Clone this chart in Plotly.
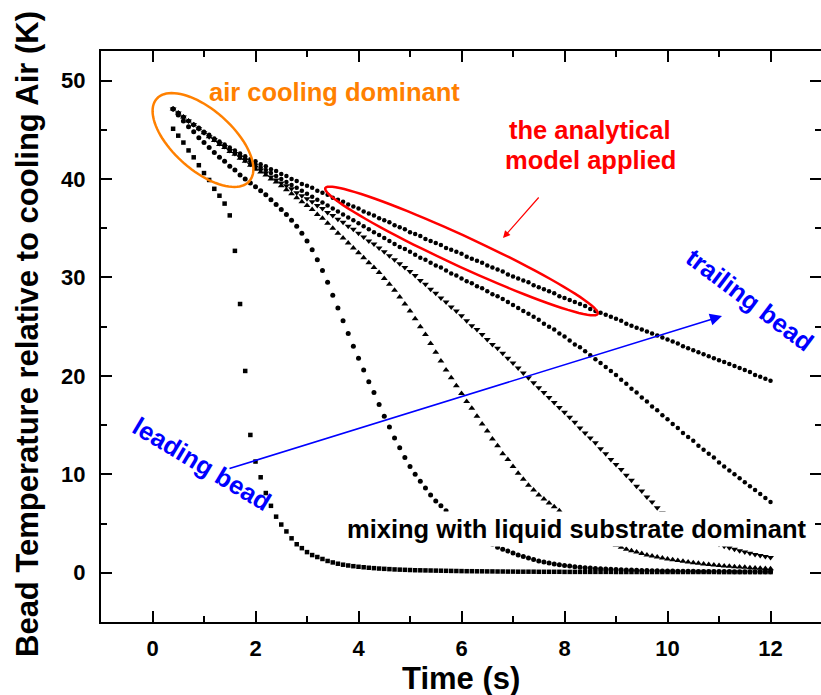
import math
import plotly.graph_objects as go

# ---------------- data ----------------
TIME = [round(0.4 + 0.1 * i, 1) for i in range(117)]  # sampling grid 0.4 .. 12.0 s

S1_SQUARE = [45.1, 44.4, 43.7, 42.9, 42.2, 41.4,
             40.6, 39.9, 39.0, 38.3, 37.5, 36.3, 32.7, 27.3, 20.5, 14.0,
             11.3, 9.7, 8.1, 6.8, 5.7, 4.9, 4.2, 3.5, 2.9, 2.5,
             2.1, 1.8, 1.6, 1.4, 1.2, 1.05, 0.92, 0.82, 0.74, 0.67,
             0.61, 0.56, 0.51, 0.47, 0.43, 0.40, 0.37, 0.34, 0.32, 0.30,
             0.28, 0.26, 0.25, 0.24, 0.23, 0.22, 0.21, 0.20, 0.19, 0.18,
             0.17, 0.16, 0.16, 0.15, 0.15, 0.14, 0.14, 0.13, 0.13, 0.12,
             0.12, 0.11, 0.11, 0.11, 0.11, 0.10, 0.10, 0.10, 0.10, 0.10,
             0.09, 0.09, 0.09, 0.09, 0.09, 0.09, 0.09, 0.09, 0.09, 0.09,
             0.08, 0.08, 0.08, 0.08, 0.08, 0.08, 0.08, 0.08, 0.08, 0.08,
             0.08, 0.08, 0.08, 0.08, 0.08, 0.08, 0.08, 0.08, 0.08, 0.08,
             0.07, 0.07, 0.07, 0.07, 0.07, 0.07, 0.07, 0.07, 0.07, 0.07,
             0.07]

S2_CIRCLE = [47.1, 46.5, 45.9, 45.3, 44.8, 44.2,
             43.7, 43.2, 42.7, 42.2, 41.8, 41.3, 40.9, 40.4, 40.0, 39.6,
             39.2, 38.8, 38.4, 37.9, 37.4, 36.9, 36.4, 35.8, 35.2, 34.5,
             33.7, 32.8, 31.8, 30.7, 29.5, 28.2, 26.9, 25.6, 24.3, 23.0,
             21.8, 20.6, 19.4, 18.3, 17.1, 15.9, 14.8, 13.7, 12.7, 11.7,
             10.8, 10.0, 9.3, 8.6, 7.9, 7.3, 6.8, 6.3, 5.8, 5.4,
             5.0, 4.6, 4.2, 3.9, 3.5, 3.2, 2.9, 2.6, 2.4, 2.2,
             2.0, 1.8, 1.65, 1.5, 1.35, 1.2, 1.1, 1.0, 0.9, 0.82,
             0.75, 0.68, 0.62, 0.57, 0.52, 0.48, 0.44, 0.41, 0.38, 0.35,
             0.33, 0.31, 0.29, 0.27, 0.25, 0.24, 0.22, 0.21, 0.20, 0.19,
             0.18, 0.17, 0.16, 0.16, 0.15, 0.15, 0.14, 0.14, 0.13, 0.13,
             0.12, 0.12, 0.12, 0.11, 0.11, 0.11, 0.10, 0.10, 0.10, 0.10,
             0.10]

S3_TRIUP = [47.1, 46.7, 46.3, 45.9, 45.5, 45.1,
            44.7, 44.3, 43.9, 43.5, 43.2, 42.8, 42.5, 42.1, 41.8, 41.4,
            41.0, 40.7, 40.4, 40.0, 39.7, 39.3, 38.9, 38.5, 38.1, 37.7,
            37.3, 36.9, 36.4, 36.0, 35.5, 35.0, 34.5, 34.0, 33.5, 33.0,
            32.5, 32.0, 31.5, 31.0, 30.5, 29.9, 29.3, 28.7, 28.0, 27.3,
            26.6, 25.8, 25.0, 24.2, 23.3, 22.4, 21.5, 20.6, 19.8, 19.0,
            18.2, 17.4, 16.7, 15.9, 15.1, 14.4, 13.6, 12.9, 12.1, 11.5,
            10.8, 10.1, 9.5, 8.9, 8.4, 7.9, 7.5, 7.1, 6.7, 6.3,
            5.9, 5.5, 5.1, 4.8, 4.4, 4.1, 3.8, 3.5, 3.3, 3.0,
            2.8, 2.6, 2.4, 2.25, 2.1, 1.95, 1.8, 1.7, 1.6, 1.5,
            1.4, 1.32, 1.24, 1.16, 1.09, 1.02, 0.96, 0.9, 0.85, 0.8,
            0.75, 0.7, 0.66, 0.62, 0.58, 0.55, 0.52, 0.49, 0.46, 0.43,
            0.4]

S4_TRIDOWN = [47.1, 46.7, 46.3, 45.9, 45.5, 45.1,
              44.7, 44.3, 44.0, 43.6, 43.3, 42.9, 42.6, 42.2, 41.9, 41.5,
              41.2, 40.9, 40.6, 40.2, 39.9, 39.6, 39.3, 39.0, 38.6, 38.3,
              38.0, 37.7, 37.3, 37.0, 36.6, 36.3, 35.9, 35.6, 35.2, 34.9,
              34.5, 34.1, 33.7, 33.4, 33.0, 32.6, 32.2, 31.8, 31.4, 31.0,
              30.6, 30.2, 29.7, 29.3, 28.8, 28.4, 27.9, 27.5, 27.0, 26.6,
              26.1, 25.6, 25.1, 24.7, 24.2, 23.7, 23.2, 22.8, 22.3, 21.8,
              21.3, 20.8, 20.3, 19.8, 19.3, 18.8, 18.3, 17.8, 17.3, 16.8,
              16.3, 15.8, 15.3, 14.7, 14.2, 13.7, 13.2, 12.6, 12.1, 11.5,
              11.0, 10.5, 9.9, 9.4, 8.8, 8.3, 7.7, 7.2, 6.6, 6.1,
              5.7, 5.3, 4.9, 4.6, 4.3, 4.0, 3.8, 3.5, 3.3, 3.1,
              2.9, 2.7, 2.55, 2.4, 2.25, 2.1, 1.98, 1.86, 1.75, 1.65,
              1.55]

S5_ROW = [47.1, 46.7, 46.3, 45.9, 45.5, 45.1,
          44.7, 44.4, 44.0, 43.7, 43.4, 43.0, 42.7, 42.4, 42.1, 41.8,
          41.5, 41.2, 40.9, 40.6, 40.3, 40.0, 39.7, 39.4, 39.1, 38.8,
          38.5, 38.2, 37.9, 37.6, 37.3, 37.0, 36.7, 36.4, 36.1, 35.8,
          35.5, 35.2, 34.9, 34.6, 34.3, 34.0, 33.7, 33.4, 33.1, 32.9,
          32.6, 32.3, 32.0, 31.8, 31.5, 31.2, 31.0, 30.7, 30.4, 30.2,
          29.9, 29.6, 29.4, 29.1, 28.9, 28.6, 28.3, 28.1, 27.8, 27.5,
          27.2, 26.9, 26.6, 26.3, 26.0, 25.7, 25.3, 25.0, 24.7, 24.3,
          24.0, 23.6, 23.2, 22.9, 22.5, 22.1, 21.7, 21.3, 20.9, 20.5,
          20.1, 19.6, 19.2, 18.7, 18.3, 17.8, 17.4, 16.9, 16.5, 16.0,
          15.6, 15.1, 14.7, 14.2, 13.8, 13.4, 12.9, 12.5, 12.1, 11.7,
          11.2, 10.8, 10.4, 10.0, 9.6, 9.2, 8.8, 8.4, 8.0, 7.6,
          7.2]

S6_TOP = [47.1, 46.7, 46.3, 45.9, 45.5, 45.2,
          44.8, 44.5, 44.1, 43.8, 43.5, 43.2, 42.9, 42.6, 42.3, 42.0,
          41.8, 41.5, 41.3, 41.0, 40.8, 40.5, 40.3, 40.0, 39.8, 39.5,
          39.3, 39.1, 38.8, 38.6, 38.4, 38.1, 37.9, 37.7, 37.4, 37.2,
          37.0, 36.7, 36.5, 36.3, 36.0, 35.8, 35.6, 35.3, 35.1, 34.9,
          34.6, 34.4, 34.2, 33.9, 33.7, 33.5, 33.3, 33.0, 32.8, 32.6,
          32.4, 32.1, 31.9, 31.7, 31.5, 31.2, 31.0, 30.8, 30.6, 30.3,
          30.1, 29.9, 29.7, 29.5, 29.2, 29.0, 28.8, 28.6, 28.4, 28.1,
          27.9, 27.7, 27.5, 27.3, 27.1, 26.8, 26.6, 26.4, 26.2, 26.0,
          25.8, 25.6, 25.3, 25.1, 24.9, 24.7, 24.5, 24.3, 24.1, 23.9,
          23.7, 23.5, 23.3, 23.0, 22.8, 22.6, 22.4, 22.2, 22.0, 21.8,
          21.6, 21.4, 21.2, 21.0, 20.8, 20.6, 20.4, 20.1, 19.9, 19.7,
          19.5]

SERIES = [
    (S1_SQUARE, "square", 4.5),
    (S2_CIRCLE, "circle", 5),
    (S3_TRIUP, "triangle-up", 6),
    (S4_TRIDOWN, "triangle-down", 6),
    (S5_ROW, "circle", 4.5),
    (S6_TOP, "circle", 4.5),
]

X_TICKS = [0, 2, 4, 6, 8, 10, 12]
Y_TICKS = [0, 10, 20, 30, 40, 50]

# ---------------- layout geometry ----------------
W_PX, H_PX = 821, 695
ML, MT, MR, MB = 101, 51, 0, 73
XR = [-1, 12.98]
YR = [-5, 53]
PW = W_PX - ML - MR
PH = H_PX - MT - MB
FONT = "Liberation Sans, Arial, sans-serif"


def px2x(px):
    return XR[0] + (px - ML) / PW * (XR[1] - XR[0])


def py2y(py):
    return YR[1] - (py - MT) / PH * (YR[1] - YR[0])


def px2paper(px):
    return (px - ML) / PW


def py2paper(py):
    return (MT + PH - py) / PH


def ellipse_path(cx, cy, a, b, ang_deg, n=90):
    th = math.radians(ang_deg)
    pts = []
    for i in range(n):
        t = 2 * math.pi * i / n
        ex, ey = a * math.cos(t), b * math.sin(t)
        px = cx + ex * math.cos(th) - ey * math.sin(th)
        py = cy + ex * math.sin(th) + ey * math.cos(th)
        pts.append((px2x(px), py2y(py)))
    d = "M %f,%f " % pts[0] + " ".join("L %f,%f" % p for p in pts[1:]) + " Z"
    return d


fig = go.Figure()
for ys, sym, sz in SERIES:
    fig.add_trace(go.Scatter(x=TIME, y=ys, mode="markers",
                             marker=dict(symbol=sym, size=sz, color="black",
                                         line=dict(width=0)),
                             showlegend=False, hoverinfo="skip"))
# empty trace attached to the right axis (ticks only)
fig.add_trace(go.Scatter(x=[], y=[], yaxis="y2", showlegend=False))

tickfont = dict(family=FONT, size=22, color="black")
titlefont = dict(family=FONT, size=31, color="black")

fig.update_layout(
    width=W_PX, height=H_PX,
    margin=dict(l=ML, r=MR, t=MT, b=MB, pad=0),
    paper_bgcolor="white", plot_bgcolor="white",
    xaxis=dict(range=XR, showgrid=False, zeroline=False,
               showline=True, linewidth=2, linecolor="black", mirror="ticks",
               ticks="inside", ticklen=11, tickwidth=2, tickcolor="black",
               tickvals=X_TICKS, ticktext=["<b>%d</b>" % v for v in X_TICKS],
               minor=dict(ticks="inside", ticklen=6, tickwidth=2, tickcolor="black", dtick=1, tick0=0),
               tickfont=tickfont, ticklabelstandoff=6),
    yaxis=dict(range=YR, showgrid=False, zeroline=False,
               showline=True, linewidth=2, linecolor="black",
               ticks="inside", ticklen=11, tickwidth=2, tickcolor="black",
               tickvals=Y_TICKS, ticktext=["<b>%d</b>" % v for v in Y_TICKS],
               minor=dict(ticks="inside", ticklen=6, tickwidth=2, tickcolor="black", dtick=5, tick0=0),
               tickfont=tickfont, ticklabelstandoff=9),
    yaxis2=dict(range=YR, overlaying="y", side="right", showgrid=False, zeroline=False,
                showline=False, ticks="inside", ticklen=11, tickwidth=2, tickcolor="black",
                tickvals=Y_TICKS, showticklabels=False,
                minor=dict(ticks="inside", ticklen=6, tickwidth=2, tickcolor="black", dtick=5, tick0=0)),
)

# axis titles (as paper-anchored text)
fig.add_annotation(x=px2paper(461), y=py2paper(678), xref="paper", yref="paper",
                   text="<b>Time (s)</b>", showarrow=False, font=titlefont,
                   xanchor="center", yanchor="middle")
fig.add_annotation(x=px2paper(27), y=py2paper(334), xref="paper", yref="paper",
                   text="<b>Bead Temperature relative to cooling Air (K)</b>", showarrow=False,
                   font=titlefont, textangle=-90, xanchor="center", yanchor="middle")

# ellipses
fig.add_shape(type="path", path=ellipse_path(203, 140, 62, 30, 41.7),
              xref="x", yref="y", line=dict(color="#FF8000", width=2.5))
fig.add_shape(type="path", path=ellipse_path(461.5, 251, 150, 15, 24.8),
              xref="x", yref="y", line=dict(color="#FF0000", width=2.5))

ann_font = dict(family=FONT, size=25.5)


def text_ann(px, py, text, color, angle=0, **kw):
    fig.add_annotation(x=px2x(px), y=py2y(py), xref="x", yref="y", text=text,
                       showarrow=False, textangle=angle,
                       font=dict(ann_font, color=color), **kw)


text_ann(334, 92, "<b>air cooling dominant</b>", "#FF8000")
text_ann(590, 130, "<b>the analytical</b>", "#FF0000")
text_ann(590, 160, "<b>model applied</b>", "#FF0000")
text_ann(202, 464, "<b>leading bead</b>", "#0000FF", angle=31)
text_ann(750, 300, "<b>trailing bead</b>", "#0000FF", angle=37)
text_ann(577, 529, "<b>mixing with liquid substrate dominant</b>", "black",
         bgcolor="white", borderpad=3)

# arrows
fig.add_annotation(x=px2x(503), y=py2y(238), xref="x", yref="y", text="",
                   showarrow=True, ax=37, ay=-42, arrowhead=2, arrowsize=1.2,
                   arrowwidth=1.2, arrowcolor="#FF0000")
fig.add_annotation(x=px2x(722), y=py2y(316), xref="x", yref="y", text="",
                   showarrow=True, ax=-494, ay=153, arrowhead=2, arrowsize=1.5,
                   arrowwidth=1.6, arrowcolor="#0000FF")

fig.write_html("out.html")
